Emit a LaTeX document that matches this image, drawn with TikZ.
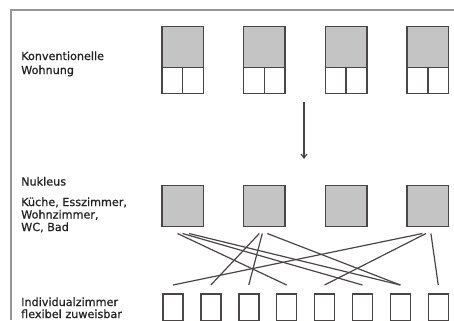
\documentclass[tikz,border=0pt]{standalone}
\usepackage{fontspec}
\setmainfont{DejaVu Sans}[UprightFeatures={FakeBold=0.7}]
\usetikzlibrary{arrows.meta,calc}
\definecolor{framecol}{RGB}{150,150,150}
\definecolor{ink}{RGB}{75,70,70}
\definecolor{fillg}{RGB}{196,196,196}
\definecolor{txt}{RGB}{35,35,35}
\begin{document}
\begin{tikzpicture}[x=1bp,y=-1bp,
  lbl/.style={anchor=base west, inner sep=0pt, text=txt, font=\fontsize{11.2bp}{13bp}\selectfont},
  graybox/.style={draw=ink, fill=fillg, line width=1.5bp, minimum width=41.5bp, minimum height=41bp, inner sep=0pt, anchor=north west},
  lowbox/.style={draw=ink, fill=white, line width=1.5bp, minimum width=41.5bp, minimum height=26bp, inner sep=0pt, anchor=north west},
  roombox/.style={draw=ink, fill=white, line width=1.5bp, minimum width=20bp, minimum height=27bp, inner sep=0pt, anchor=north west},
  link/.style={draw=ink, line width=1.2bp},
  framestyle/.style={draw=framecol, line width=1.2bp}
]
\useasboundingbox (0,0) rectangle (454,320);
\fill[white] (0,0) rectangle (454,320);
% frame
\draw[framestyle] (11,320) -- (11,10) -- (454,10);

% labels
\node[lbl] (t1) at (21,60) {Konventionelle};
\node[lbl] (t2) at (21,74) {Wohnung};
\node[lbl] (t3) at (21,185.5) {Nukleus};
\node[lbl] (t4) at (21,206) {Küche, Esszimmer,};
\node[lbl] (t5) at (21,218.5) {Wohnzimmer,};
\node[lbl] (t6) at (21,231) {WC, Bad};
\node[lbl] (t7) at (21,306) {Individualzimmer};
\node[lbl] (t8) at (21,318) {flexibel zuweisbar};

% conventional apartments
\foreach \i in {1,...,4}{
  \node[graybox] (k\i) at ({161+(\i-1)*81.8},25.5) {};
  \node[lowbox] (l\i) at ({161+(\i-1)*81.8},66.5) {};
  \draw[ink, line width=1.5bp] (l\i.north) -- (l\i.south);
}

% arrow
\coordinate (a1) at (304,102);
\coordinate (a2) at (304,159);
\draw[link, -{Straight Barb[length=4bp,width=6bp]}] (a1) -- (a2);

% nuclei
\foreach \i in {1,...,4}{
  \node[graybox] (n\i) at ({161+(\i-1)*81.8},184.5) {};
}

% individual rooms
\foreach \i in {1,...,8}{
  \node[roombox] (s\i) at ({162.2+(\i-1)*37.9},293) {};
}

% connections
\draw[link] ([xshift=-5bp,yshift=-6.5bp]n1.south) -- ([yshift=8bp]s4.north);
\draw[link] ([xshift=0bp,yshift=-6.5bp]n1.south) -- ([yshift=8bp]s6.north);
\draw[link] ([xshift=6.5bp,yshift=-6.5bp]n1.south) -- ([yshift=8bp]s7.north);

\draw[link] ([xshift=-5bp,yshift=-6.5bp]n2.south) -- ([yshift=8bp]s2.north);
\draw[link] ([xshift=-2bp,yshift=-6.5bp]n2.south) -- ([yshift=8bp]s3.north);
\draw[link] ([xshift=3bp,yshift=-6.5bp]n2.south) -- ([yshift=8bp]s7.north);

\draw[link] ([xshift=-5.5bp,yshift=-6.5bp]n4.south) -- ([yshift=8bp]s1.north);
\draw[link] ([xshift=-2bp,yshift=-6.5bp]n4.south) -- ([yshift=8bp]s5.north);
\draw[link] ([xshift=3bp,yshift=-6.5bp]n4.south) -- ([yshift=8bp]s8.north);
\end{tikzpicture}
\end{document}
